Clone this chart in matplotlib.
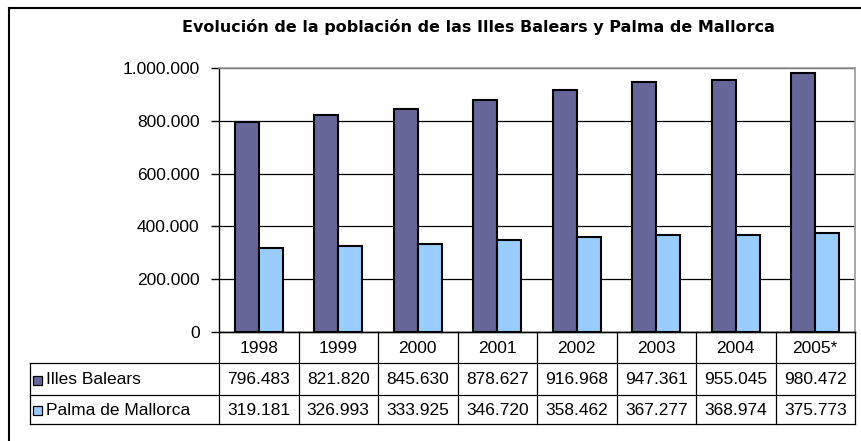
import matplotlib.pyplot as plt
import numpy as np

plt.rcParams['font.family'] = ['Liberation Sans', 'DejaVu Sans']

# Datos
years = ['1998', '1999', '2000', '2001', '2002', '2003', '2004', '2005*']
illes_balears = [796483, 821820, 845630, 878627, 916968, 947361, 955045, 980472]
palma = [319181, 326993, 333925, 346720, 358462, 367277, 368974, 375773]
series_names = ['Illes Balears', 'Palma de Mallorca']
colors = ['#666699', '#99CCFF']

W, H = 861, 441
fig = plt.figure(figsize=(W / 100, H / 100), dpi=100)

# zona de barras (pixeles)
px_left, px_right, px_top, px_bottom = 219, 855, 68, 332
ax = fig.add_axes([px_left / W, 1 - px_bottom / H,
                   (px_right - px_left) / W, (px_bottom - px_top) / H])

x = np.arange(len(years))
w = 0.3
ax.bar(x - w / 2, illes_balears, w, color=colors[0], edgecolor='black', linewidth=1.5, zorder=3)
ax.bar(x + w / 2, palma, w, color=colors[1], edgecolor='black', linewidth=1.5, zorder=3)

ax.set_xlim(-0.5, len(years) - 0.5)
ax.set_ylim(0, 1000000)
yt = np.arange(0, 1000001, 200000)
ax.set_yticks(yt)
ax.set_yticklabels([f"{v:,.0f}".replace(",", ".") for v in yt], fontsize=12.5)
ax.set_xticks([])
ax.tick_params(axis='y', length=6, width=1, direction='out', pad=8)
ax.yaxis.grid(True, color='black', linewidth=0.9)
ax.set_axisbelow(True)
for s in ['top', 'right']:
    ax.spines[s].set_color('#999999')
    ax.spines[s].set_linewidth(1.2)
for s in ['left', 'bottom']:
    ax.spines[s].set_color('black')
    ax.spines[s].set_linewidth(1.0)

# capa superior en pixeles para marco, titulo y tabla
ov = fig.add_axes([0, 0, 1, 1], zorder=5)
ov.set_xlim(0, W)
ov.set_ylim(H, 0)
ov.axis('off')
ov.patch.set_alpha(0)

# marco exterior
ov.plot([9, 9], [8, H + 5], color='black', lw=1.5)
ov.plot([9, W + 5], [8, 8], color='black', lw=1.5)

ov.text(478, 27, 'Evolución de la población de las Illes Balears y Palma de Mallorca',
        ha='center', va='center', fontsize=11.5, fontweight='bold',
        family=['DejaVu Sans'])

# tabla de datos
col_w = (px_right - px_left) / len(years)
rows_y = [332, 363, 395, 424]
label_left = 30
lc = 'black'
lw = 0.9
ov.plot([px_left, px_right], [rows_y[0], rows_y[0]], color=lc, lw=lw)
for yy in rows_y[1:]:
    ov.plot([label_left, px_right], [yy, yy], color=lc, lw=lw)
for i in range(len(years) + 1):
    xx = px_left + i * col_w
    ov.plot([xx, xx], [rows_y[0], rows_y[3]], color=lc, lw=lw)
ov.plot([label_left, label_left], [rows_y[1], rows_y[3]], color=lc, lw=lw)

for i, yr in enumerate(years):
    cx = px_left + (i + 0.5) * col_w
    ov.text(cx, (rows_y[0] + rows_y[1]) / 2 + 1, yr, ha='center', va='center', fontsize=12.5)

for r, (vals, name, c) in enumerate(zip([illes_balears, palma], series_names, colors)):
    cy = (rows_y[r + 1] + rows_y[r + 2]) / 2 + 1
    ov.add_patch(plt.Rectangle((33, cy - 4.5), 9, 9, facecolor=c, edgecolor='black', lw=0.9))
    ov.text(46, cy, name, ha='left', va='center', fontsize=12.5)
    for i, v in enumerate(vals):
        cx = px_left + (i + 0.5) * col_w
        ov.text(cx, cy, f"{v:,.0f}".replace(",", "."), ha='center', va='center', fontsize=12.5)

fig.savefig('out.png', dpi=100)
